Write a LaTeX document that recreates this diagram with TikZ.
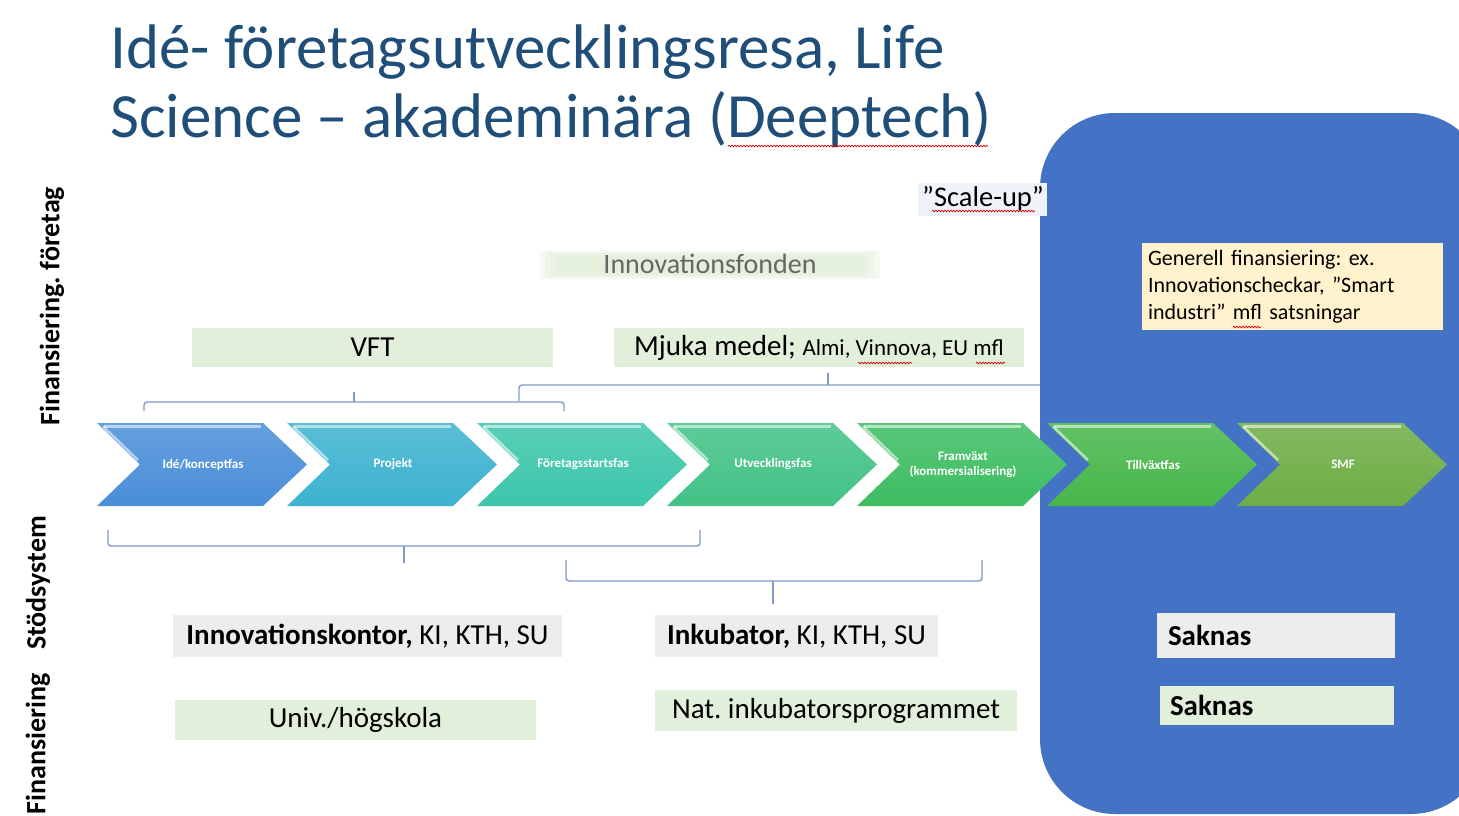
\documentclass[tikz,border=0pt]{standalone}
\usepackage{fontspec}
\setmainfont{Carlito}
\usetikzlibrary{decorations.pathmorphing}
\definecolor{titleblue}{HTML}{1F4E79}
\definecolor{scaleblue}{HTML}{4472C4}
\definecolor{boxgreen}{HTML}{E2EFDA}
\definecolor{boxgray}{HTML}{EDEDED}
\definecolor{boxcream}{HTML}{FFF2CC}
\definecolor{boxmist}{HTML}{EEF3F9}
\definecolor{bracecol}{HTML}{7F9BCB}
\definecolor{idecol}{HTML}{4A8ED8}
\definecolor{projcol}{HTML}{3DB2CF}
\definecolor{startcol}{HTML}{3CC6AA}
\definecolor{utvcol}{HTML}{42C285}
\definecolor{framcol}{HTML}{3DBD62}
\definecolor{tillcol}{HTML}{47B64A}
\definecolor{smfcol}{HTML}{6EAD45}
\def\chevron(#1:#2)[#3]#4{%
  \shade[top color=#3!85!white, bottom color=#3] (#1,423) -- (#1+166,423) -- (#1+210,464.5) -- (#1+166,506) -- (#1,506) -- (#1+43,464.5) -- cycle;
  \draw[white, opacity=.55, line width=2.5pt] (#1+7,426.5) -- (#1+164,426.5);
  \draw[white, opacity=.55, line width=2.5pt] (#1+6,426.5) -- (#1+41,460);
  \node[phase] (#2) at (#1+106,464.5) {#4};
}
\def\squig(#1,#2:#3){\draw[squiggle] (#1,#2) -- (#3,#2);}
\tikzset{
  phase/.style={text=white, font=\bfseries\fontsize{13}{15}\selectfont, align=center, inner sep=0pt},
  sidelabel/.style={rotate=90, font=\bfseries\fontsize{28}{32}\selectfont, inner sep=0pt},
  fundbox/.style={inner sep=0pt, font=\fontsize{29}{34}\selectfont},
  brace/.style={draw=bracecol, line width=1.4pt, rounded corners=3pt},
  squiggle/.style={draw=red!85!black, line width=0.7pt, decorate, decoration={snake, amplitude=0.8pt, segment length=3pt}},
}
\frenchspacing

\begin{document}
\begin{tikzpicture}[x=1pt, y=-1pt]
			%%%%% START %%%%%
			\useasboundingbox (0,0) rectangle (1459,816);
			\clip (0,0) rectangle (1459,816);
			\fill[white] (0,0) rectangle (1459,816);
			
			% title
			\node[anchor=base west, inner sep=0pt, text=titleblue, font=\fontsize{63}{69}\selectfont] (title1) at (110,68) {Idé- företagsutvecklingsresa, Life};
			\node[anchor=base west, inner sep=0pt, text=titleblue, font=\fontsize{63}{69}\selectfont] (title2) at (110,137) {Science -- akademinära (Deeptech)};
			\squig(728,146:988)
			
			% side labels
			\node[sidelabel] (finf) at (52,306) {Finansiering. företag};
			\node[sidelabel] (stod) at (38,583) {Stödsystem};
			\node[sidelabel] (fin) at (38,744) {Finansiering};
			
			% braces
			\draw[brace] (144,411) -- (144,402) -- (564,402) -- (564,411);
			\draw[brace] (354,402) -- (354,392);
			\draw[brace] (519,401) -- (519,385) -- (1137,385);
			\draw[brace] (828,385) -- (828,373);
			\draw[brace] (108,530) -- (108,546) -- (700,546) -- (700,530);
			\draw[brace] (404,546) -- (404,563);
			\draw[brace] (566,560) -- (566,581) -- (982,581) -- (982,560);
			\draw[brace] (773,581) -- (773,604);
			
			% scale-up area
			\fill[scaleblue, rounded corners=75pt] (1040,113) rectangle (1486,814);
			
			% phases
			\chevron(97:ide)[idecol]{Idé/konceptfas}
			\chevron(287:proj)[projcol]{Projekt}
			\chevron(477:start)[startcol]{Företagsstartsfas}
			\chevron(667:utv)[utvcol]{Utvecklingsfas}
			\chevron(857:fram)[framcol]{Framväxt\\(kommersialisering)}
			\chevron(1047:till)[tillcol]{Tillväxtfas}
			\chevron(1237:smf)[smfcol]{SMF}
			
			% funding, companies
			\fill[boxmist] (918,183) rectangle (1047,216);
			\node[fundbox, font=\fontsize{28.5}{30}\selectfont] (scaleup) at (983,199) {”Scale-up”};
			\squig(932,211:1035)
			
			\foreach \i in {0,...,5}
				\fill[boxgreen, opacity=.3] (540+\i*5,250+\i*1.5) rectangle (880-\i*5,279-\i*1.5);
			\node[fundbox, text=black!60, font=\fontsize{28}{30}\selectfont] (fonden) at (710,264) {Innovationsfonden};
			
			\node[fundbox, fill=boxgreen, minimum width=361pt, minimum height=39pt] (vft) at (372.5,347.5) {VFT};
			\node[fundbox, fill=boxgreen, minimum width=410pt, minimum height=39pt] (mjuka) at (819,347.5) {Mjuka medel; {\fontsize{23}{26}\selectfont Almi, Vinnova, EU mfl}};
			\squig(858,363:912)
			\squig(976,363:1005)
			
			\node[fundbox, fill=boxcream, minimum width=301pt, minimum height=87pt, text width=289pt, align=left, font=\fontsize{22}{27}\selectfont] (generell) at (1292.5,286.5) {Generell finansiering: ex.\\Innovationscheckar, ”Smart\\industri” mfl satsningar};
			\squig(1233,327:1261)
			
			% support system
			\node[fundbox, fill=boxgray, minimum width=389pt, minimum height=42pt] (innokontor) at (367.5,636) {\textbf{Innovationskontor,} KI, KTH, SU};
			\node[fundbox, fill=boxgray, minimum width=283pt, minimum height=42pt] (inkubator) at (796.5,636) {\textbf{Inkubator,} KI, KTH, SU};
			\node[fundbox, fill=boxgray, minimum width=238pt, minimum height=45pt, text width=216pt, align=left] (saknas1) at (1276,635.5) {\textbf{Saknas}};
			
			% support funding
			\node[fundbox, fill=boxgreen, minimum width=361pt, minimum height=40pt] (univ) at (355.5,720) {Univ./högskola};
			\node[fundbox, fill=boxgreen, minimum width=362pt, minimum height=41pt] (natinkub) at (836,710.5) {Nat. inkubatorsprogrammet};
			\node[fundbox, fill=boxgreen, minimum width=234pt, minimum height=39pt, text width=214pt, align=left] (saknas2) at (1277,705.5) {\textbf{Saknas}};
			
			%%%%% END %%%%%
\end{tikzpicture}
\end{document}
